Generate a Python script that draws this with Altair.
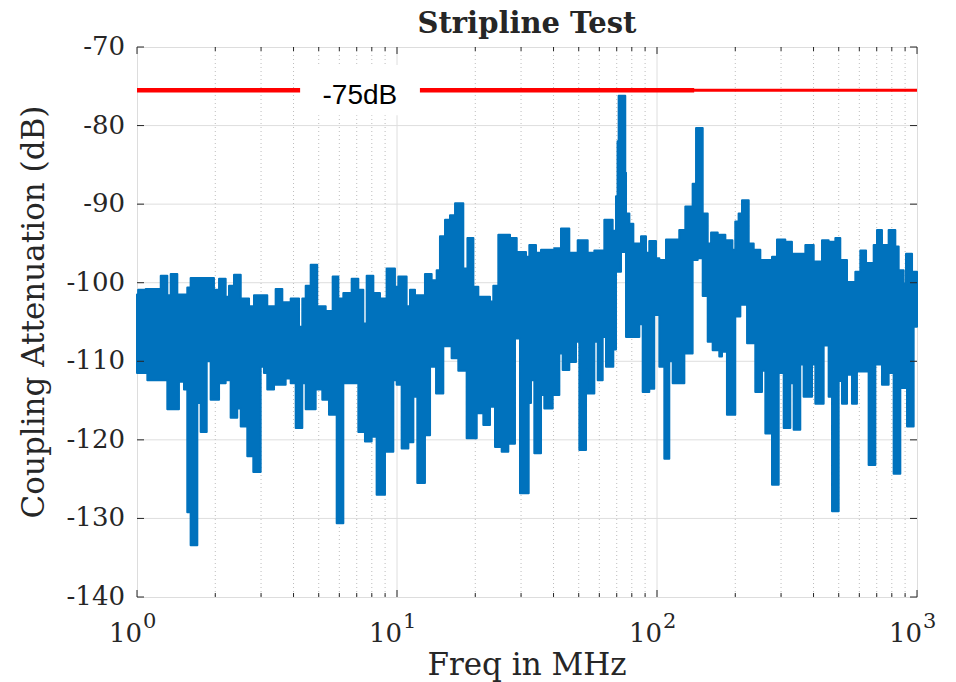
import altair as alt
import pandas as pd

# ---------------- data ----------------
# upper outline of the measured trace (step starts, MHz) and its level (dB)
upper_freq = [1.00, 1.01, 1.08, 1.234, 1.308, 1.348, 1.429, 1.561, 1.608, 1.977,
              2.068, 2.193, 2.259, 2.361, 2.506, 2.697, 2.818, 3.170, 3.414, 3.622,
              3.900, 4.199, 4.323, 4.455, 4.656, 4.935, 5.318,
              5.657, 5.949, 6.217, 6.693, 7.10, 7.42, 7.645, 8.11, 8.60, 9.12,
              9.82, 10.12, 10.89, 11.22, 11.73, 12.81, 13.59, 14.21, 14.63, 15.30,
              15.99, 16.72, 17.99, 18.66, 19.67, 20.55, 22.79, 23.46, 24.53, 27.21,
              28.87, 31.35, 32.28, 34.24, 35.80, 40.28, 42.73, 46.00, 49.54, 54.13,
              57.41, 62.72, 67.53, 69.55, 70.5, 71.2, 75.5, 76.0, 78.3, 81.1,
              86.8, 90.7, 93.4, 99.1, 102.1, 108.3, 121.8, 128.5, 137.1, 141.3,
              149.9, 156.7, 161.4, 171.2, 177.8, 183.2, 195.0, 200.0, 206.0, 212.3,
              225.3, 235.5, 249.7, 276.9, 289.4, 311.5, 330.4, 372.0, 400.6, 431.1,
              457.3, 485.2, 507.0, 538.0, 579.2, 605.2, 636.8, 681.4, 701.7, 733.3,
              778.0, 825.3, 850.2, 888.7, 907.3, 957.0]
upper_db = [-101.5, -100.9, -100.8, -99.1, -101.6, -98.9, -101.5, -100.6, -99.4, -100.9,
            -99.5, -101.8, -100.4, -99.0, -102.0, -103.0, -101.6, -103.0, -100.8, -102.5,
            -102.0, -105.6, -102.0, -100.4, -97.7, -103.0, -103.6,
            -99.2, -102.0, -101.3, -99.5, -100.9, -105.2, -99.1, -101.3, -102.0, -98.2,
            -100.5, -99.2, -103.0, -100.9, -101.6, -98.9, -99.7, -98.4, -94.1, -92.0,
            -91.4, -89.9, -98.2, -94.3, -100.5, -101.8, -102.4, -100.4, -93.9, -94.3,
            -96.1, -96.7, -95.2, -96.2, -95.8, -95.6, -93.1, -96.2, -94.6, -96.2,
            -95.9, -92.0, -93.4, -89.0, -82.0, -76.2, -86.0, -91.2, -92.5, -95.0,
            -94.1, -96.2, -94.7, -96.9, -97.1, -94.5, -93.3, -90.3, -87.4, -80.3,
            -91.2, -95.0, -93.6, -93.9, -93.9, -94.6, -95.8, -92.2, -91.2, -89.5,
            -95.0, -95.8, -97.1, -96.7, -94.5, -94.8, -96.3, -95.2, -97.3, -94.6,
            -94.8, -94.3, -97.1, -99.9, -98.6, -95.9, -97.5, -95.2, -93.3, -95.2,
            -93.3, -95.4, -98.4, -100.1, -96.3, -98.6]

# lower outline of the measured trace
lower_freq = [1.00, 1.096, 1.308, 1.450, 1.516, 1.561, 1.608, 1.706, 1.758, 1.854,
              1.920, 2.068, 2.193, 2.292, 2.430, 2.506, 2.656, 2.801, 2.990, 3.078,
              3.170, 3.365, 3.731, 3.900, 4.077, 4.323, 4.455, 4.866, 5.160, 5.475,
              5.862, 6.217, 7.100, 7.53, 7.99, 8.35, 8.99, 9.68, 9.97, 10.42,
              11.06, 11.56, 11.97, 12.81, 13.40, 14.13, 15.07, 16.22, 17.21, 18.53,
              20.26, 21.48, 22.79, 23.82, 25.27, 26.80, 28.43, 29.72,
              32.1, 32.76, 33.74, 35.80, 36.86, 39.71, 42.11, 43.37, 46.00, 48.81,
              50.26, 53.33, 54.13, 57.41, 59.15, 61.82, 63.66, 67.92, 69.55, 72.70,
              76.0, 85.5, 88.1, 93.4, 97.6, 102.1, 106.7, 111.5, 114.9, 127.4,
              137.1, 143.4, 149.9, 156.7, 163.7, 173.6,
              177.8, 185.8, 200.0, 209.2, 222.0, 238.8, 253.4, 261.0, 276.9, 293.8,
              307.1, 325.7, 335.4, 355.7, 366.4, 394.7, 406.4, 437.5, 457.3, 471.2,
              499.7, 514.6, 538.0, 562.3, 587.5, 651.6, 691.5, 733.3, 778.0, 813.2,
              862.7, 915.5, 970.8]
lower_db = [-111.5, -112.4, -116.1, -112.6, -113.6, -129.2, -133.4, -115.3, -119.0, -110.0,
            -114.9, -112.8, -112.4, -117.2, -116.0, -118.3, -122.1, -124.1, -110.7, -111.5,
            -113.6, -113.0, -112.2, -112.8, -118.5, -112.8, -116.1, -113.6, -114.9, -116.8,
            -130.6, -112.8, -119.0, -120.2, -119.6, -127.0, -121.5, -112.4, -113.0, -121.1,
            -120.3, -114.5, -125.5, -119.4, -110.7, -114.1, -108.1, -109.6, -111.2, -119.8,
            -116.6, -118.1, -115.8, -120.9, -121.5, -120.5, -107.1, -126.8,
            -115.3, -112.4, -121.7, -114.3, -116.0, -114.3, -109.0, -111.1, -110.1, -107.5,
            -121.3, -111.0, -114.1, -107.5, -112.4, -106.9, -110.7, -108.5, -98.6, -96.1,
            -106.9, -105.3, -113.9, -113.5, -104.1, -110.7, -122.4, -110.0, -112.8, -109.0,
            -97.1, -96.9, -101.7, -107.5, -108.6, -109.4,
            -108.8, -116.8, -104.3, -102.8, -107.7, -113.9, -111.2, -119.2, -125.7, -111.5,
            -118.5, -112.8, -118.7, -110.4, -114.5, -110.4, -115.4, -108.0, -114.5, -129.1,
            -112.5, -115.4, -111.7, -115.4, -111.3, -123.2, -110.4, -113.0, -111.5, -124.3,
            -113.4, -118.3, -105.6]

freq_end = 1000.0

y_ticks = [-140, -130, -120, -110, -100, -90, -80, -70]
y_tick_labels = ["-140", "-130", "-120", "-110", "-100", "-90", "-80", "-70"]
x_major = [1, 10, 100, 1000]
x_exponents = ["0", "1", "2", "3"]
x_minor = [2, 3, 4, 5, 6, 7, 8, 9, 20, 30, 40, 50, 60, 70, 80, 90,
           200, 300, 400, 500, 600, 700, 800, 900]

ref_level = -75.5          # red limit line
ref_thick_end = 139.0      # the thicker copy of the limit line stops here
ref_label = "-75dB"

title_text = "Stripline Test"
x_title = "Freq in MHz"
y_title = "Coupling Attenuation (dB)"

# ---------------- build the band table (step lookup of both outlines) ----------------
def step_value(fs, vs, f):
    val = vs[0]
    for fi, vi in zip(fs, vs):
        if fi <= f:
            val = vi
        else:
            break
    return val

breaks = sorted(set(upper_freq) | set(lower_freq) | {freq_end})
band_df = pd.DataFrame({
    "f": breaks,
    "top": [step_value(upper_freq, upper_db, b) for b in breaks],
    "bottom": [step_value(lower_freq, lower_db, b) for b in breaks],
})

# ---------------- chart ----------------
W, H = 780, 550
AX = "#262626"
BLUE = "#0072BD"
SERIF = "DejaVu Serif"

xs = alt.Scale(type="log", domain=[1, 1000], nice=False)
ys = alt.Scale(domain=[-140, -70], nice=False, zero=False)

grid_y = alt.Chart(pd.DataFrame({"v": y_ticks[1:-1]})).mark_rule(
    color="#dedede", strokeWidth=1).encode(y=alt.Y("v:Q", scale=ys, axis=None))
grid_xmaj = alt.Chart(pd.DataFrame({"v": x_major[1:-1]})).mark_rule(
    color="#dedede", strokeWidth=1).encode(x=alt.X("v:Q", scale=xs, axis=None))
grid_xmin = alt.Chart(pd.DataFrame({"v": x_minor})).mark_rule(
    color="#bdbdbd", strokeWidth=1, strokeDash=[1, 3]).encode(
    x=alt.X("v:Q", scale=xs, axis=None))

band = alt.Chart(band_df).mark_area(
    interpolate="step-after", color=BLUE, opacity=1,
    stroke=BLUE, strokeWidth=2, strokeJoin="round").encode(
    x=alt.X("f:Q", scale=xs, axis=None),
    y=alt.Y("top:Q", scale=ys, axis=None),
    y2="bottom:Q",
)

ref_df = pd.DataFrame({"f0": [1.0], "f1": [freq_end], "f2": [ref_thick_end], "y": [ref_level]})
ref_thin = alt.Chart(ref_df).mark_rule(color="#ff0000", strokeWidth=3).encode(
    x=alt.X("f0:Q", scale=xs, axis=None), x2="f1:Q", y=alt.Y("y:Q", scale=ys, axis=None))
ref_thick = alt.Chart(ref_df).mark_rule(color="#ff0000", strokeWidth=4.5).encode(
    x=alt.X("f0:Q", scale=xs, axis=None), x2="f2:Q", y=alt.Y("y:Q", scale=ys, axis=None))

lab_df = pd.DataFrame({"t": [ref_label]})
lab_box = alt.Chart(lab_df).mark_rect(color="white").encode(
    x=alt.X(datum=4.24, scale=xs, axis=None), x2=alt.X2(datum=12.25),
    y=alt.Y(datum=-72.3, scale=ys, axis=None), y2=alt.Y2(datum=-78.7))
lab_text = alt.Chart(lab_df).mark_text(
    font="Liberation Sans", fontSize=28, align="center", baseline="alphabetic",
    color="#000000").encode(
    x=alt.X(datum=7.2, scale=xs, axis=None),
    y=alt.Y(datum=-77.25, scale=ys, axis=None),
    text="t:N")

# inward ticks (MATLAB style)
xmaj_df = pd.DataFrame({"v": x_major, "base": ["10"] * 4, "exp": x_exponents})
xmin_df = pd.DataFrame({"v": x_minor})
yt_df = pd.DataFrame({"v": y_ticks, "lab": y_tick_labels})

def xtick(df, y0, y1):
    return alt.Chart(df).mark_rule(color=AX, strokeWidth=1).encode(
        x=alt.X("v:Q", scale=xs, axis=None), y=alt.value(y0), y2=alt.value(y1))

def ytick(x0, x1):
    return alt.Chart(yt_df).mark_rule(color=AX, strokeWidth=1).encode(
        y=alt.Y("v:Q", scale=ys, axis=None), x=alt.value(x0), x2=alt.value(x1))

ticks = [xtick(xmaj_df, H, H - 7), xtick(xmaj_df, 0, 7),
         xtick(xmin_df, H, H - 4), xtick(xmin_df, 0, 4),
         ytick(0, 7), ytick(W, W - 7)]

ylabels = alt.Chart(yt_df).mark_text(
    font=SERIF, fontSize=26, align="right", baseline="middle", color=AX, dx=-12).encode(
    y=alt.Y("v:Q", scale=ys, axis=None), x=alt.value(0), text="lab:N")

xbase = alt.Chart(xmaj_df).mark_text(
    font=SERIF, fontSize=26, align="right", baseline="alphabetic", color=AX, dx=5).encode(
    x=alt.X("v:Q", scale=xs, axis=None), y=alt.value(H + 45), text="base:N")
xexp = alt.Chart(xmaj_df).mark_text(
    font=SERIF, fontSize=21, align="left", baseline="alphabetic", color=AX, dx=6).encode(
    x=alt.X("v:Q", scale=xs, axis=None), y=alt.value(H + 31), text="exp:N")

def free_text(txt, x, y, size, bold=False, angle=0):
    kw = dict(font=SERIF, fontSize=size, align="center", baseline="alphabetic",
              color=AX, fontWeight="bold" if bold else "normal")
    if angle:
        kw["angle"] = angle
        kw["baseline"] = "middle"
    return alt.Chart(pd.DataFrame({"t": [txt]})).mark_text(**kw).encode(
        x=alt.value(x), y=alt.value(y), text="t:N")

title = free_text(title_text, W / 2, -14, 29, bold=True)
xtitle = free_text(x_title, W / 2, H + 78, 31)
ytitle = free_text(y_title, -102, 265, 31, angle=270)

bottom_line = alt.Chart(pd.DataFrame({"a": [0]})).mark_rule(
    color="#d6d6d6", strokeWidth=1).encode(
    x=alt.value(-123), x2=alt.value(W + 39), y=alt.value(H + 87))

chart = alt.layer(
    grid_y, grid_xmaj, grid_xmin, band, ref_thin, ref_thick, lab_box, lab_text,
    *ticks, ylabels, xbase, xexp, title, xtitle, ytitle, bottom_line,
).properties(
    width=W, height=H,
    autosize=alt.AutoSizeParams(type="none"),
    padding={"left": 137, "top": 47, "right": 39, "bottom": 85},
).configure_view(stroke=AX, strokeWidth=1.2).configure(background="white")

chart.save("out.html", embed_options={"renderer": "svg", "actions": False})
